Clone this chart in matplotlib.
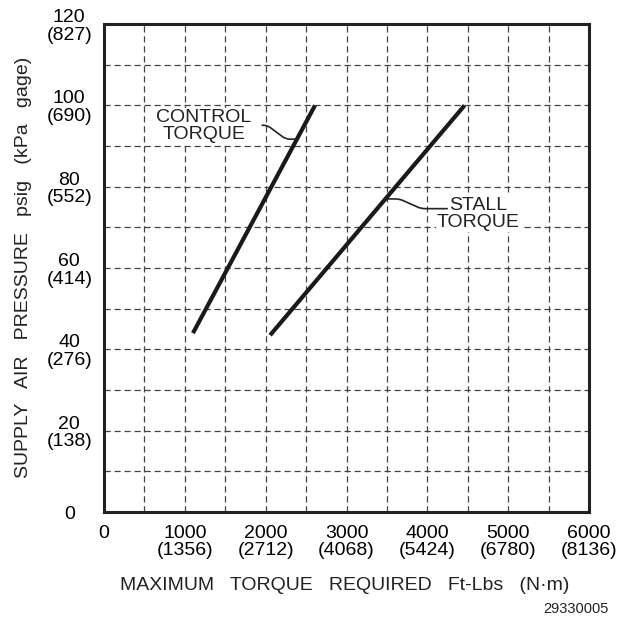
import numpy as np
import matplotlib
matplotlib.use("Agg")
import matplotlib.pyplot as plt

plt.rcParams['font.family'] = ['Liberation Sans', 'DejaVu Sans']

# data
control_torque = [1100, 2610]   # ft-lbs
control_psi = [44, 100]
stall_torque = [2055, 4460]
stall_psi = [43.5, 100]

x_ticks = [0, 1000, 2000, 3000, 4000, 5000, 6000]
x_metric = [None, 1356, 2712, 4068, 5424, 6780, 8136]
y_ticks = [0, 20, 40, 60, 80, 100, 120]
y_metric = [None, 138, 276, 414, 552, 690, 827]


def point_at(xs, ys, y):
    return np.interp(y, ys, xs), y


fig = plt.figure(figsize=(6.32, 6.18), dpi=100)
ax = fig.add_axes([0.1646, 0.1715, 0.7674, 0.7895])

ax.set_xlim(0, 6000)
ax.set_ylim(0, 120)

ax.set_xticks(np.arange(0, 6001, 500), minor=True)
ax.set_yticks(np.arange(0, 121, 10), minor=True)
ax.set_xticks(x_ticks)
ax.set_yticks(y_ticks)
ax.set_xticklabels([f"{v}" if m is None else f"{v}\n({m})" for v, m in zip(x_ticks, x_metric)],
                   linespacing=1.05)
ax.set_yticklabels([f"{v}" if m is None else f"{v}\n({m})" for v, m in zip(y_ticks, y_metric)],
                   multialignment='center', linespacing=1.05)
ax.tick_params(which='both', length=0, labelsize=14, pad=9)
for lbl in ax.get_yticklabels():
    lbl.set_horizontalalignment('center')
ax.tick_params(axis='y', pad=25)

ax.grid(True, which='both', color='#444444', linestyle=(0, (5, 3)), linewidth=0.9)
ax.set_axisbelow(True)
for s in ax.spines.values():
    s.set_linewidth(2.2)
    s.set_color('#222222')

ax.plot(control_torque, control_psi, color='#1a1a1a', lw=3, solid_capstyle='butt', zorder=3)
ax.plot(stall_torque, stall_psi, color='#1a1a1a', lw=3, solid_capstyle='butt', zorder=3)

# labels with squiggle leaders
cx, cy = point_at(control_torque, control_psi, 91.7)
ax.annotate("CONTROL\nTORQUE", xy=(cx, cy), xytext=(-67, 9.5), textcoords='offset points',
            ha='center', va='center', fontsize=14, color='#222222', linespacing=1.0,
            bbox=dict(facecolor='white', edgecolor='none', pad=0.5))
ax.annotate("", xy=(cx, cy), xytext=(-25, 10), textcoords='offset points',
            arrowprops=dict(arrowstyle='-', lw=1.2, color='#222222', shrinkA=0, shrinkB=0,
                            connectionstyle="arc,angleA=0,angleB=180,armA=5,armB=11,rad=4"))

sx, sy = point_at(stall_torque, stall_psi, 77)
ax.annotate("STALL\nTORQUE", xy=(sx, sy), xytext=(67, -11), textcoords='offset points',
            ha='center', va='center', fontsize=14, color='#222222', linespacing=1.0,
            bbox=dict(facecolor='white', edgecolor='none', pad=0.5))
ax.annotate("", xy=(sx, sy), xytext=(44.5, -7), textcoords='offset points',
            arrowprops=dict(arrowstyle='-', lw=1.2, color='#222222', shrinkA=0, shrinkB=0,
                            connectionstyle="arc,angleA=180,angleB=0,armA=26,armB=14,rad=4"))

fig.text(0.037, 0.568, "SUPPLY   AIR   PRESSURE   psig   (kPa   gage)", rotation=90,
         ha='center', va='center', fontsize=14, color='#222222')
fig.text(0.546, 0.053, "MAXIMUM   TORQUE   REQUIRED   Ft-Lbs   (N\u00b7m)",
         ha='center', va='center', fontsize=14, color='#222222')
fig.text(0.911, 0.015, "29330005", ha='center', va='center', fontsize=10.5, color='#222222')

fig.savefig("out.png", dpi=100)
